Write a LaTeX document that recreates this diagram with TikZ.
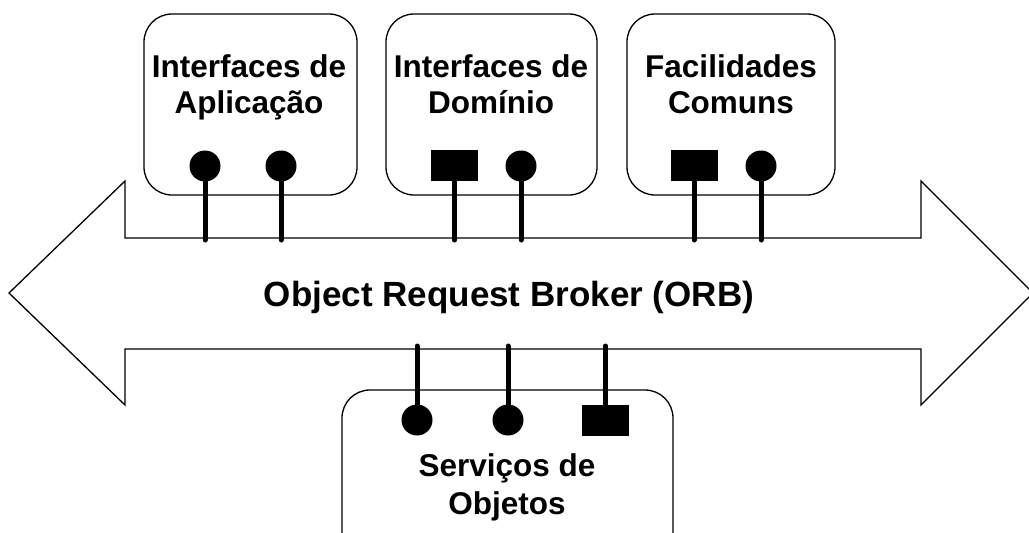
\documentclass[tikz,border=0pt]{standalone}
\usepackage{fontspec}
\setmainfont{Liberation Sans}
\tikzset{
  orb/.style={line width=1.3pt, line join=miter},
  iface/.style={draw, line width=1.3pt, rounded corners=28pt, minimum width=#1, inner sep=0pt},
  boxtitle/.style={anchor=north, align=center, inner sep=0pt, font=\bfseries\fontsize{31.5}{36}\selectfont},
  orbtitle/.style={anchor=base, inner sep=0pt, font=\bfseries\fontsize{35}{36}\selectfont},
  ball/.style={circle, fill, inner sep=0pt, minimum size=31pt},
  plug/.style={rectangle, fill, inner sep=0pt, minimum width=47pt, minimum height=31pt},
  stem/.style={line width=5pt, line cap=round}
}
\begin{document}
\begin{tikzpicture}[x=1pt,y=-1pt]
  \useasboundingbox (0,0) rectangle (1029,533);
  \clip (0,0) rectangle (1029,533);
  \draw [orb] (125,238)--(125,181)--(9,293)--(125,405)--(125,349)--(921,349)--(921,405)--(1033,293)--(921,181)--(921,238)--cycle;
  \node [orbtitle] (orbtext) at (509,306) {Object Request Broker (ORB)};
  \coordinate (orbhi) at (0,240);
  \coordinate (orblo) at (0,346);
  \node [iface=213pt, minimum height=181pt] (apl) at (250.5,104.5) {};
  \node [iface=211pt, minimum height=181pt] (dom) at (491.5,104.5) {};
  \node [iface=208pt, minimum height=181pt] (fac) at (731,104.5) {};
  \node [iface=331pt, minimum height=170pt] (srv) at (507.5,475) {};
  \node [boxtitle] (apltext) at (249,54.5) {Interfaces de\\Aplicação};
  \node [boxtitle] (domtext) at (491,54.5) {Interfaces de\\Domínio};
  \node [boxtitle] (factext) at (731,54.5) {Facilidades\\Comuns};
  \node [boxtitle] (srvtext) at (507,453.5) {Serviços de\\[2pt]Objetos};
  \node [ball] (apl1) at (205,166) {};
  \node [ball] (apl2) at (281,166) {};
  \node [plug] (dom1) at (454.5,165.5) {};
  \node [ball] (dom2) at (521,166) {};
  \node [plug] (fac1) at (694,165.5) {};
  \node [ball] (fac2) at (761,166) {};
  \node [ball] (srv1) at (417,420) {};
  \node [ball] (srv2) at (508,420) {};
  \node [plug] (srv3) at (605.5,420) {};
  \foreach \p in {apl1,apl2,dom1,dom2,fac1,fac2}
    \draw [stem] (\p.center)--(\p |- orbhi);
  \foreach \p in {srv1,srv2,srv3}
    \draw [stem] (\p.center)--(\p |- orblo);
\end{tikzpicture}
\end{document}
